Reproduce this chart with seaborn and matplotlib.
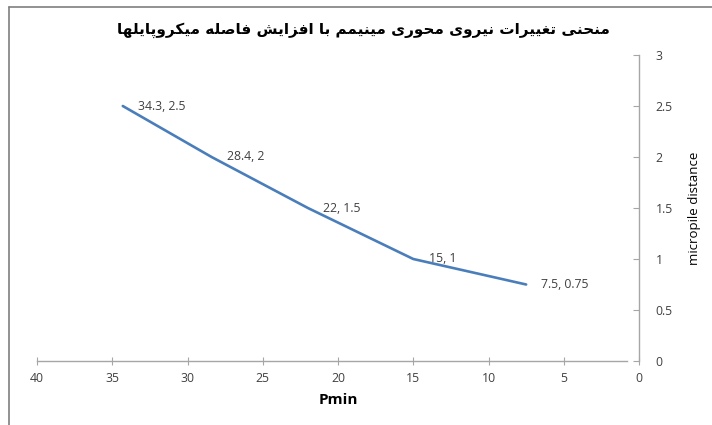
import matplotlib
matplotlib.use("Agg")
import matplotlib.pyplot as plt
import seaborn as sns
import pandas as pd
from matplotlib.lines import Line2D

# Data
p_min = [34.3, 28.4, 22, 15, 7.5]
distance = [2.5, 2, 1.5, 1, 0.75]
x_ticks = [40, 35, 30, 25, 20, 15, 10, 5, 0]
y_ticks = [0, 0.5, 1, 1.5, 2, 2.5, 3]
title_text = "منحنی تغییرات نیروی محوری مینیمم با افزایش فاصله میکروپایلها"
x_label = "Pmin"
y_label = "micropile distance"

# Minimal Arabic-script shaping (presentation forms + visual order)
FORMS = {
    "ا": (0xFE8D, 0xFE8E, None, None),
    "ب": (0xFE8F, 0xFE90, 0xFE91, 0xFE92),
    "پ": (0xFB56, 0xFB57, 0xFB58, 0xFB59),
    "ت": (0xFE95, 0xFE96, 0xFE97, 0xFE98),
    "ح": (0xFEA1, 0xFEA2, 0xFEA3, 0xFEA4),
    "ر": (0xFEAD, 0xFEAE, None, None),
    "ز": (0xFEAF, 0xFEB0, None, None),
    "ش": (0xFEB5, 0xFEB6, 0xFEB7, 0xFEB8),
    "ص": (0xFEB9, 0xFEBA, 0xFEBB, 0xFEBC),
    "غ": (0xFECD, 0xFECE, 0xFECF, 0xFED0),
    "ف": (0xFED1, 0xFED2, 0xFED3, 0xFED4),
    "ک": (0xFB8E, 0xFB8F, 0xFB90, 0xFB91),
    "ل": (0xFEDD, 0xFEDE, 0xFEDF, 0xFEE0),
    "م": (0xFEE1, 0xFEE2, 0xFEE3, 0xFEE4),
    "ن": (0xFEE5, 0xFEE6, 0xFEE7, 0xFEE8),
    "ه": (0xFEE9, 0xFEEA, 0xFEEB, 0xFEEC),
    "و": (0xFEED, 0xFEEE, None, None),
    "ی": (0xFBFC, 0xFBFD, 0xFBFE, 0xFBFF),
}


def dual(c):
    return c in FORMS and FORMS[c][2] is not None


def shape(text):
    out = []
    for i, c in enumerate(text):
        if c not in FORMS:
            out.append(c)
            continue
        prev = text[i - 1] if i > 0 else ""
        nxt = text[i + 1] if i + 1 < len(text) else ""
        jp = dual(prev)
        jn = dual(c) and nxt in FORMS
        iso, fin, ini, med = FORMS[c]
        if jp and jn:
            code = med
        elif jp:
            code = fin
        elif jn:
            code = ini
        else:
            code = iso
        out.append(chr(code))
    return "".join(reversed(out))


sns.set_theme(style="white")
plt.rcParams["font.family"] = ["Open Sans", "DejaVu Sans"]

fig = plt.figure(figsize=(7.12, 4.25), dpi=100)
ax = fig.add_axes([37 / 712, 1 - 361 / 425, 602 / 712, 306 / 425])

df = pd.DataFrame({"Pmin": p_min, "dist": distance})
sns.lineplot(data=df, x="Pmin", y="dist", ax=ax, color="#4A7EBB",
             linewidth=1.9, sort=False)

ax.set_xlim(40, 0)
ax.set_ylim(0, 3)
ax.set_xticks(x_ticks)
ax.set_xticklabels([str(t) for t in x_ticks])
ax.set_yticks(y_ticks)
ax.set_yticklabels([f"{t:g}" for t in y_ticks])

ax.yaxis.tick_right()
ax.yaxis.set_label_position("right")
for side in ["left", "top"]:
    ax.spines[side].set_visible(False)
for side in ["bottom", "right"]:
    ax.spines[side].set_color("#A6A6A6")
    ax.spines[side].set_linewidth(1.0)
ax.spines["bottom"].set_bounds(40, 0.8)

ax.tick_params(axis="x", direction="inout", length=6, width=0.8,
               color="#A6A6A6", labelsize=8.8, labelcolor="#404040", pad=5,
               bottom=True)
ax.tick_params(axis="y", direction="in", length=4, width=0.8,
               color="#A6A6A6", labelsize=8.8, labelcolor="#404040", pad=12,
               right=True, left=False)

ax.set_xlabel(x_label, fontsize=11, fontweight="bold", color="#000000",
              labelpad=6)
ax.set_ylabel(y_label, fontsize=9.5, color="#000000", labelpad=11)

for px, py in zip(p_min, distance):
    ax.annotate(f"{px:g}, {py:g}", (px, py), xytext=(11, 0),
                textcoords="offset points", ha="left", va="center",
                fontsize=8.8, color="#404040")

fig.text(363 / 712, 1 - 30 / 425, shape(title_text), ha="center",
         va="center", fontsize=11, fontweight="bold",
         family=["DejaVu Sans"], color="#000000")

# Frame lines along the top and left edges
fig.add_artist(Line2D([8.5 / 712, 8.5 / 712], [0, 1 - 7 / 425],
                      transform=fig.transFigure, color="#7F7F7F", lw=1.2))
fig.add_artist(Line2D([8.5 / 712, 1], [1 - 7 / 425, 1 - 7 / 425],
                      transform=fig.transFigure, color="#7F7F7F", lw=1.2))

fig.savefig("out.png", dpi=100, facecolor="white")
